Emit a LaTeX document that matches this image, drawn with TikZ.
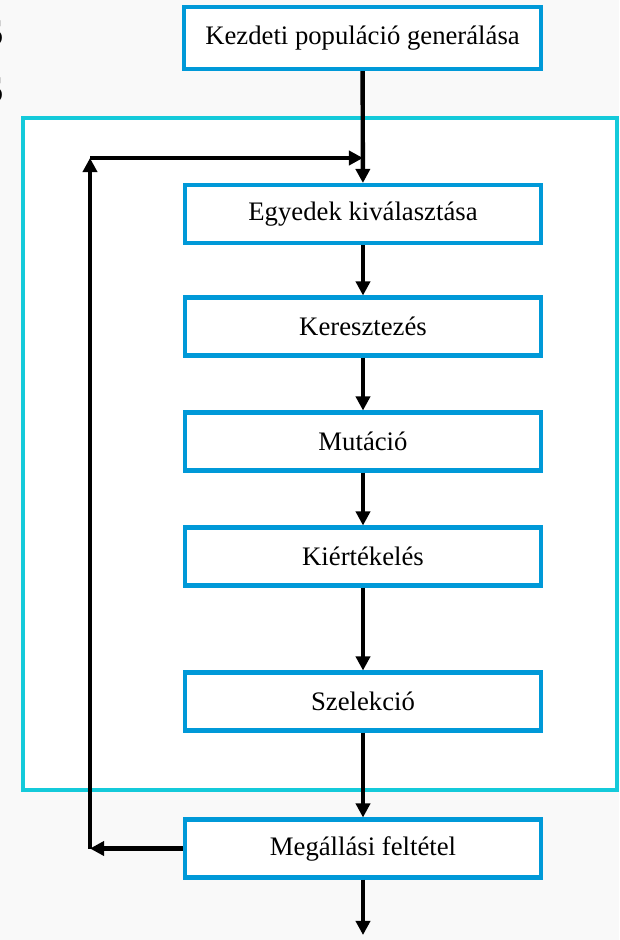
\documentclass[tikz,border=0pt]{standalone}
\usepackage{fontspec}
\setmainfont{Liberation Serif}
\usetikzlibrary{arrows.meta,shadows}
\definecolor{boxblue}{RGB}{0,153,216}
\definecolor{framecyan}{RGB}{20,202,218}

\begin{document}
\begin{tikzpicture}[every node/.style={font=\fontsize{15.2}{17}\selectfont},
   stepbox/.style={draw=boxblue,line width=2.3pt,fill=white,minimum width=7.12cm,minimum height=1.16cm,
     drop shadow={opacity=0.2,shadow xshift=1pt,shadow yshift=-1pt}},
   flow/.style={line width=2.5pt,-{Triangle[length=8pt,width=8pt]}}]

\useasboundingbox (0,0) rectangle (12.38,-18.8);
\fill[gray!5] (0,0) rectangle (12.38,-18.8);
\node[anchor=east,inner sep=0pt,font=\fontsize{22}{24}\bfseries\selectfont] (s1) at (0.08,-0.66) {S};
\node[anchor=east,inner sep=0pt,font=\fontsize{22}{24}\bfseries\selectfont] (s2) at (0.08,-1.8) {S};
\draw[framecyan,line width=2.3pt,fill=white] (0.46,-2.36) rectangle (12.34,-15.8);

\node[stepbox,minimum width=7.14cm,minimum height=1.24cm] (init) at (7.25,-0.76) {Kezdeti populáció generálása};
\node[stepbox] (select) at (7.26,-4.28) {Egyedek kiválasztása};
\node[stepbox] (cross) at (7.26,-6.53) {Keresztezés};
\node[stepbox] (mut) at (7.26,-8.83) {Mutáció};
\node[stepbox] (eval) at (7.26,-11.13) {Kiértékelés};
\node[stepbox] (selection) at (7.26,-14.03) {Szelekció};
\node[stepbox] (stop) at (7.26,-16.97) {Megállási feltétel};
\coordinate (bend) at (1.8,-16.97);
\coordinate (corner) at (1.8,-3.16);
\coordinate (join) at (7.26,-3.16);
\coordinate (out) at (7.26,-18.7);

\draw[flow] (init) -- (select);
\draw[flow] (select) -- (cross);
\draw[flow] (cross) -- (mut);
\draw[flow] (mut) -- (eval);
\draw[flow] (eval) -- (selection);
\draw[flow] (selection) -- (stop);
\draw[flow] (stop) -- (out);
\draw[flow] (stop) -- (bend);
\draw[flow] (bend) -- (corner);
\draw[flow] (corner) -- (join);

\end{tikzpicture}
\end{document}
